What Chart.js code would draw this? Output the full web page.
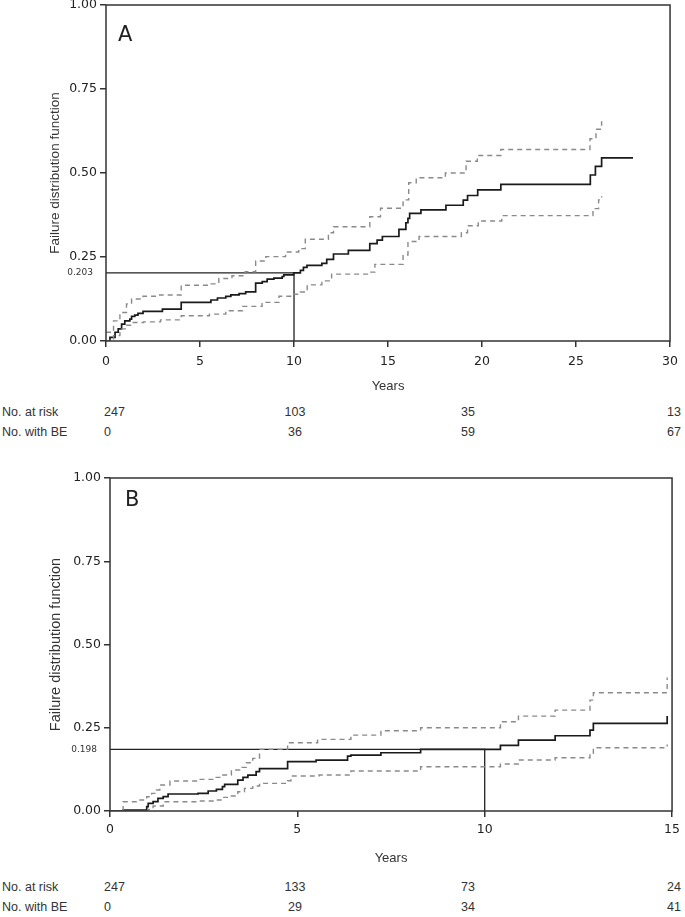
<!DOCTYPE html>
<html>
<head>
<meta charset="utf-8">
<script src="https://cdn.jsdelivr.net/npm/chart.js@4.4.1/dist/chart.umd.min.js"></script>
<style>
  body { margin: 0; background: #fff; }
  #page { position: relative; width: 685px; height: 917px; overflow: hidden;
          font-family: "Liberation Sans", Arial, sans-serif; color: #333; }
  canvas { position: absolute; left: 0; }
  .lbl { position: absolute; left: 2px; font-size: 12.5px; white-space: nowrap; transform: translateY(-50%); }
  .num { position: absolute; font-size: 12.5px; white-space: nowrap; }
</style>
</head>
<body>
<div id="page">
  <canvas id="chartA" width="685" height="404" style="top:-10px"></canvas>
  <canvas id="chartB" width="685" height="403" style="top:463px"></canvas>
  <div id="tableA"></div>
  <div id="tableB"></div>
</div>
<script>
// ---- data ----
const yTicks = [0, 0.25, 0.5, 0.75, 1];
const aXTicks = [0, 5, 10, 15, 20, 25, 30];
const bXTicks = [0, 5, 10, 15];

// panel A: failure distribution, 95% limits
const aMainT = [0, 0.21, 0.48, 0.65, 0.83, 1.0, 1.27, 1.36, 1.53, 1.7, 1.97, 3.0, 4.0, 5.58, 5.93, 6.37, 6.64, 7.08, 7.43, 7.96, 8.31, 8.57, 8.93, 9.37, 9.46, 9.98, 10.34, 10.5, 10.69, 11.48, 11.74, 12.1, 12.89, 14.03, 14.42, 14.7, 15.58, 15.95, 16.06, 16.15, 16.75, 18.08, 19.0, 19.23, 19.77, 21.0, 25.76, 26.03, 26.36, 28.03];
const aMainF = [0, 0.011, 0.026, 0.036, 0.05, 0.06, 0.065, 0.073, 0.077, 0.082, 0.088, 0.095, 0.115, 0.122, 0.128, 0.133, 0.137, 0.141, 0.146, 0.172, 0.177, 0.184, 0.187, 0.192, 0.197, 0.203, 0.21, 0.219, 0.225, 0.231, 0.243, 0.259, 0.27, 0.29, 0.3, 0.311, 0.332, 0.352, 0.365, 0.38, 0.39, 0.404, 0.419, 0.433, 0.45, 0.466, 0.494, 0.52, 0.545, 0.545];
const aUpperT = [0, 0.4, 0.74, 1.09, 1.36, 1.97, 2.85, 4.0, 5.5, 6.0, 6.7, 7.4, 7.96, 8.5, 9.55, 10.25, 10.6, 11.83, 12.1, 14.03, 14.6, 15.8, 16.1, 16.5, 18.05, 19.15, 19.75, 21.0, 25.74, 26.06, 26.36];
const aUpperF = [0.026, 0.06, 0.085, 0.11, 0.125, 0.133, 0.137, 0.166, 0.17, 0.186, 0.194, 0.206, 0.238, 0.251, 0.265, 0.275, 0.303, 0.322, 0.34, 0.37, 0.395, 0.42, 0.471, 0.486, 0.5, 0.535, 0.552, 0.57, 0.602, 0.63, 0.654];
const aLowerT = [0, 0.4, 0.74, 1.09, 1.45, 2.0, 2.9, 4.0, 5.5, 6.37, 7.26, 8.3, 9.2, 9.9, 10.34, 10.7, 11.48, 12.0, 13.95, 14.3, 15.8, 16.06, 16.65, 18.9, 19.23, 19.8, 21.05, 25.9, 26.2, 26.36];
const aLowerF = [0, 0.016, 0.036, 0.047, 0.055, 0.057, 0.063, 0.075, 0.08, 0.09, 0.103, 0.115, 0.133, 0.139, 0.146, 0.167, 0.179, 0.199, 0.205, 0.228, 0.256, 0.296, 0.311, 0.322, 0.343, 0.357, 0.373, 0.394, 0.42, 0.431];

// panel B
const bMainT = [0, 0.35, 0.98, 1.02, 1.15, 1.28, 1.42, 1.55, 2.35, 2.62, 2.84, 3.0, 3.06, 3.41, 3.55, 3.68, 3.9, 3.99, 4.74, 5.5, 6.34, 6.43, 7.23, 8.29, 10.42, 10.9, 11.88, 12.81, 12.9, 14.85, 14.87];
const bMainF = [0, 0.003, 0.013, 0.023, 0.028, 0.038, 0.043, 0.051, 0.053, 0.06, 0.065, 0.073, 0.08, 0.093, 0.101, 0.108, 0.118, 0.127, 0.148, 0.153, 0.165, 0.168, 0.175, 0.185, 0.197, 0.213, 0.226, 0.243, 0.263, 0.263, 0.285];
const bUpperT = [0.35, 0.35, 0.8, 0.98, 1.11, 1.24, 1.33, 1.6, 2.35, 2.79, 2.97, 3.24, 3.46, 3.64, 3.81, 3.99, 4.74, 5.54, 6.43, 7.23, 8.29, 10.42, 10.9, 11.88, 12.81, 12.9, 14.85, 14.87];
const bUpperF = [0, 0.028, 0.033, 0.043, 0.053, 0.063, 0.078, 0.09, 0.095, 0.101, 0.108, 0.123, 0.131, 0.145, 0.158, 0.185, 0.205, 0.215, 0.228, 0.241, 0.25, 0.268, 0.285, 0.303, 0.333, 0.355, 0.355, 0.401];
const bLowerT = [0.98, 1.02, 1.15, 1.42, 2.35, 2.79, 3.0, 3.24, 3.41, 3.59, 3.81, 3.99, 4.74, 4.83, 5.58, 6.43, 8.29, 10.42, 10.9, 11.88, 12.81, 12.9, 14.85, 14.87];
const bLowerF = [0, 0.005, 0.015, 0.028, 0.03, 0.033, 0.041, 0.045, 0.058, 0.068, 0.075, 0.083, 0.091, 0.105, 0.108, 0.12, 0.133, 0.141, 0.153, 0.16, 0.173, 0.19, 0.19, 0.2];

// 10-year reference values
const aRef = { year: 10, value: 0.203, label: '0.203' };
const bRef = { year: 10, value: 0.185, label: '0.198' };

// number-at-risk table
const riskRows = ['No. at risk', 'No. with BE'];
const aAtRisk = [247, 103, 35, 13];
const aWithBE = [0, 36, 59, 67];
const bAtRisk = [247, 133, 73, 24];
const bWithBE = [0, 29, 34, 41];

// ---- drawing ----
function pairs(t, f) {
    return t.map((x, i) => ({ x: x, y: f[i] }));
}

const framePlugin = {
    id: 'frame',
    afterDraw(chart, args, opts) {
        const { ctx, chartArea: a } = chart;
        const y = chart.scales.y;
        ctx.save();
        ctx.strokeStyle = '#333';
        ctx.lineWidth = 1.5;
        ctx.strokeRect(a.left, a.top, a.right - a.left, a.bottom - a.top);

        ctx.fillStyle = '#222';
        ctx.font = '21px "DejaVu Sans"';
        ctx.textBaseline = 'top';
        ctx.fillText(opts.letter, a.left + opts.letterDx, a.top + opts.letterDy);

        ctx.font = '9px "DejaVu Sans"';
        ctx.fillStyle = '#333';
        ctx.textAlign = 'right';
        ctx.textBaseline = 'middle';
        ctx.fillText(opts.ref.label, a.left - 13, y.getPixelForValue(opts.ref.value));
        ctx.restore();
    }
};

function makePanel(canvasId, p) {
    const tickFont = { family: 'DejaVu Sans', size: 12.5 };
    return new Chart(document.getElementById(canvasId), {
        type: 'scatter',
        data: {
            datasets: [
                { data: pairs(p.upperT, p.upperF), borderColor: '#8a8a8a', borderDash: [5, 4], borderWidth: 1.4 },
                { data: pairs(p.lowerT, p.lowerF), borderColor: '#8a8a8a', borderDash: [5, 4], borderWidth: 1.4 },
                { data: [{ x: 0, y: p.ref.value }, { x: p.ref.year, y: p.ref.value }, { x: p.ref.year, y: 0 }],
                  borderColor: '#222', borderWidth: 1.3, stepped: false },
                { data: pairs(p.mainT, p.mainF), borderColor: '#1a1a1a', borderWidth: 1.7 }
            ]
        },
        options: {
            responsive: false,
            animation: false,
            events: [],
            showLine: true,
            elements: {
                point: { radius: 0 },
                line: { stepped: true, tension: 0, fill: false }
            },
            layout: { padding: { top: 15, right: 11, left: 0, bottom: 0 } },
            plugins: {
                legend: { display: false },
                tooltip: { enabled: false },
                frame: { letter: p.letter, letterDx: p.letterDx, letterDy: p.letterDy, ref: p.ref }
            },
            scales: {
                x: {
                    type: 'linear',
                    min: 0,
                    max: p.xTicks[p.xTicks.length - 1],
                    afterBuildTicks: axis => { axis.ticks = p.xTicks.map(v => ({ value: v })); },
                    afterFit: axis => { axis.height = p.xAxisHeight; },
                    grid: { drawOnChartArea: false, color: '#333', lineWidth: 1.5, tickLength: 6 },
                    border: { display: false },
                    ticks: { font: tickFont, color: '#222', padding: p.xTickPad, maxRotation: 0, autoSkip: false },
                    title: { display: true, text: 'Years', color: '#333', font: { family: 'Liberation Sans', size: 13 },
                             padding: { top: 0, bottom: 0 } }
                },
                y: {
                    min: 0,
                    max: 1,
                    afterBuildTicks: axis => { axis.ticks = yTicks.map(v => ({ value: v })); },
                    afterFit: axis => { axis.width = p.yAxisWidth; },
                    grid: { drawOnChartArea: false, color: '#333', lineWidth: 1.5, tickLength: 6 },
                    border: { display: false },
                    ticks: { font: tickFont, color: '#222', padding: 3, callback: v => v.toFixed(2) },
                    title: { display: true, text: 'Failure distribution function', color: '#333',
                             font: { family: 'Liberation Sans', size: p.yTitleSize }, padding: { top: 47, bottom: 0 } }
                }
            }
        },
        plugins: [framePlugin]
    });
}

makePanel('chartA', {
    mainT: aMainT, mainF: aMainF, upperT: aUpperT, upperF: aUpperF, lowerT: aLowerT, lowerF: aLowerF,
    ref: aRef, xTicks: aXTicks, letter: 'A', letterDx: 12, letterDy: 20,
    yAxisWidth: 106, xAxisHeight: 53, xTickPad: 7, yTitleSize: 13.5
});
makePanel('chartB', {
    mainT: bMainT, mainF: bMainF, upperT: bUpperT, upperF: bUpperF, lowerT: bLowerT, lowerF: bLowerF,
    ref: bRef, xTicks: bXTicks, letter: 'B', letterDx: 15, letterDy: 12,
    yAxisWidth: 110, xAxisHeight: 55, xTickPad: 5, yTitleSize: 14.5
});

// risk table below each panel
const colPos = [104, 295, 468, 681];
function buildTable(id, rowsY, atRisk, withBE) {
    const box = document.getElementById(id);
    [atRisk, withBE].forEach((vals, r) => {
        const lab = document.createElement('div');
        lab.className = 'lbl';
        lab.style.top = rowsY[r] + 'px';
        lab.textContent = riskRows[r];
        box.appendChild(lab);
        vals.forEach((v, i) => {
            const d = document.createElement('div');
            d.className = 'num';
            d.textContent = v;
            let tx = '-50%';
            if (i === 0) tx = '0';
            if (i === vals.length - 1) tx = '-100%';
            d.style.left = colPos[i] + 'px';
            d.style.top = rowsY[r] + 'px';
            d.style.transform = 'translate(' + tx + ', -50%)';
            box.appendChild(d);
        });
    });
}
buildTable('tableA', [412, 432], aAtRisk, aWithBE);
buildTable('tableB', [887, 907], bAtRisk, bWithBE);
</script>
</body>
</html>
